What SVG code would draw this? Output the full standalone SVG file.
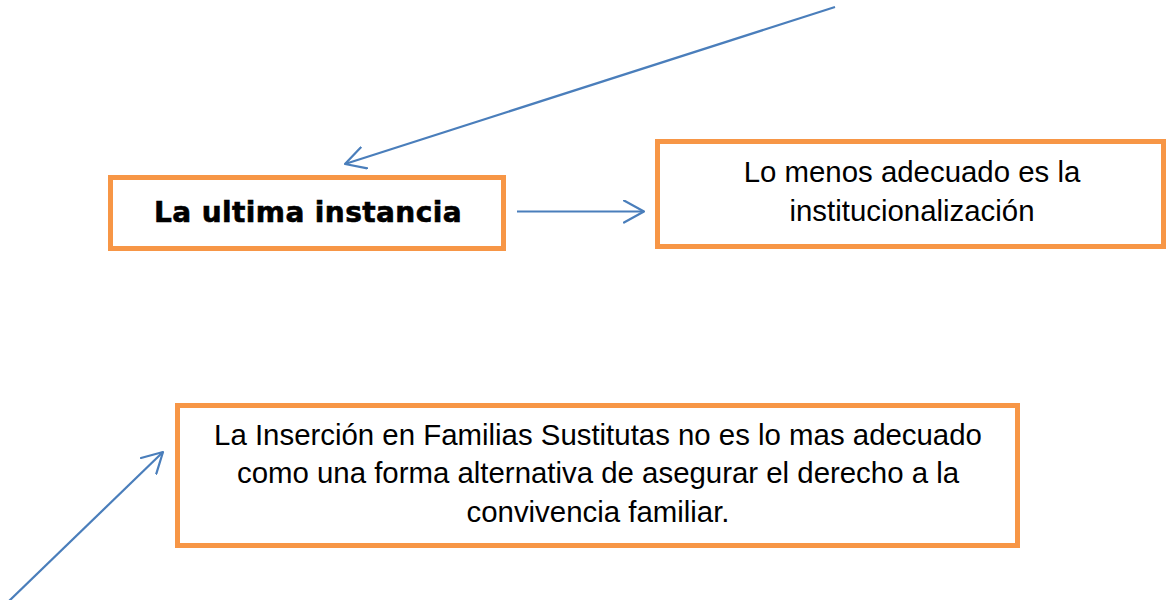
<svg xmlns="http://www.w3.org/2000/svg" width="1166" height="600" viewBox="0 0 1166 600">
  <style>
    .box { fill: #ffffff; stroke: #F79646; stroke-width: 5; }
    .conn { stroke: #4A7EBB; stroke-width: 2.2; fill: none; }
    .txt { font-family: "Liberation Sans", Arial, sans-serif; font-size: 29.4px; fill: #000000; text-anchor: middle; }
    .bold { font-family: "DejaVu Sans", "Liberation Sans", sans-serif; font-weight: bold; font-size: 28px; fill: #000000; stroke: #000000; stroke-width: 0.6; text-anchor: middle; }
  </style>
  <defs>
    <marker id="arrow" viewBox="0 0 22 24" refX="21" refY="12" markerWidth="22" markerHeight="24" markerUnits="userSpaceOnUse" orient="auto">
      <path d="M1,1 L21,12 L1,23" fill="none" stroke="#4A7EBB" stroke-width="2.2" stroke-linecap="round" stroke-linejoin="round"/>
    </marker>
  </defs>
  <rect width="1166" height="600" fill="#ffffff"/>
  <g id="connectors">
    <line class="conn" x1="835" y1="7" x2="345" y2="164" marker-end="url(#arrow)"/>
    <line class="conn" x1="517" y1="211.5" x2="644" y2="211.5" marker-end="url(#arrow)"/>
    <line class="conn" x1="8" y1="602" x2="163" y2="452" marker-end="url(#arrow)"/>
  </g>
  <g id="node-ultima">
    <rect class="box" x="110.5" y="177.5" width="393" height="71"/>
    <text class="bold" x="308" y="222" letter-spacing="0.4">La ultima instancia</text>
  </g>
  <g id="node-menos">
    <rect class="box" x="657.5" y="141.5" width="506" height="105"/>
    <text class="txt" x="912" y="182">Lo menos adecuado es la</text>
    <text class="txt" x="912" y="221">institucionalización</text>
  </g>
  <g id="node-insercion">
    <rect class="box" x="177.5" y="405.5" width="840" height="140"/>
    <text class="txt" x="598" y="445">La Inserción en Familias Sustitutas no es lo mas adecuado</text>
    <text class="txt" x="598" y="483">como una forma alternativa de asegurar el derecho a la</text>
    <text class="txt" x="598" y="522">convivencia familiar.</text>
  </g>
</svg>
